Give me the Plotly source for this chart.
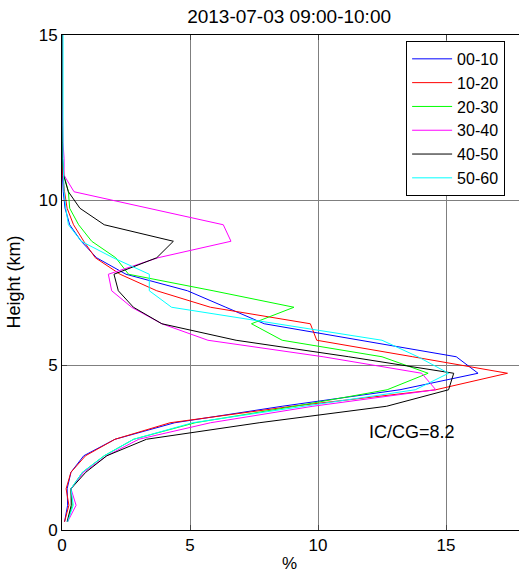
import plotly.graph_objects as go

heights = [0.25, 0.75, 1.25, 1.75, 2.25, 2.75, 3.25, 3.75, 4.25, 4.75, 5.25, 5.75,
           6.25, 6.75, 7.25, 7.75, 8.25, 8.75, 9.25, 9.75, 10.25, 10.75, 11.25,
           11.75, 12.25, 12.75, 13.25, 13.75, 14.25, 14.75, 15.25]

s_00_10 = [0.1, 0.22, 0.2, 0.35, 0.85, 2.07, 4.4, 8.6, 13.2, 16.25, 15.4, 11.7,
           7.9, 6.4, 4.9, 2.5, 1.35, 0.75, 0.3, 0.12, 0.05, 0.02, 0.0,
           0.0, 0.0, 0.0, 0.0, 0.0, 0.0, 0.0, 0.0]
s_10_20 = [0.1, 0.27, 0.16, 0.35, 0.92, 2.07, 4.22, 9.0, 14.6, 17.4, 13.7, 9.95,
           9.7, 5.8, 3.7, 2.27, 1.3, 0.85, 0.45, 0.2, 0.1, 0.03, 0.01,
           0.0, 0.0, 0.0, 0.0, 0.0, 0.0, 0.0, 0.0]
s_20_30 = [0.22, 0.4, 0.35, 0.8, 1.65, 2.8, 5.2, 9.1, 12.7, 14.3, 12.5, 8.6,
           7.4, 9.06, 5.9, 2.6, 2.1, 1.16, 0.65, 0.3, 0.25, 0.08, 0.02,
           0.01, 0.0, 0.0, 0.0, 0.0, 0.0, 0.0, 0.0]
s_30_40 = [0.22, 0.55, 0.35, 0.85, 1.75, 3.0, 5.8, 9.8, 14.6, 14.05, 10.2, 5.7,
           3.9, 2.72, 1.94, 1.81, 3.75, 6.6, 6.3, 3.4, 0.47, 0.08, 0.08,
           0.04, 0.02, 0.01, 0.0, 0.0, 0.0, 0.0, 0.0]
s_40_50 = [0.2, 0.36, 0.35, 0.93, 1.75, 3.3, 7.7, 12.68, 15.1, 15.3, 11.2, 6.8,
           3.9, 2.79, 2.2, 2.03, 3.7, 4.35, 1.65, 0.7, 0.25, 0.06, 0.02,
           0.0, 0.0, 0.0, 0.0, 0.0, 0.0, 0.0, 0.0]
s_50_60 = [0.22, 0.44, 0.35, 0.8, 1.65, 2.8, 5.1, 9.4, 13.8, 15.1, 13.9, 12.5,
           8.46, 4.28, 3.41, 3.41, 2.0, 0.75, 0.25, 0.15, 0.08, 0.05, 0.04,
           0.04, 0.04, 0.04, 0.04, 0.04, 0.04, 0.04, 0.04]

series_names = ["00-10", "10-20", "20-30", "30-40", "40-50", "50-60"]
series_vals = [s_00_10, s_10_20, s_20_30, s_30_40, s_40_50, s_50_60]
colors = ["#0000ff", "#ff0000", "#00ff00", "#ff00ff", "#000000", "#00ffff"]

x_ticks = [0, 5, 10, 15]
y_ticks = [0, 5, 10, 15]

FONT = "Liberation Sans, Arial, sans-serif"

fig = go.Figure()
for name, vals, c in zip(series_names, series_vals, colors):
    fig.add_trace(go.Scatter(x=vals, y=heights, mode="lines", name=name,
                             line=dict(color=c, width=1)))

fig.add_annotation(x=11.9, y=2.97, text="IC/CG=8.2", showarrow=False,
                   xanchor="left", yanchor="middle",
                   font=dict(size=18, color="black", family=FONT))

# axis titles
fig.add_annotation(xref="paper", yref="paper", x=0.497, y=0, yshift=-33,
                   text="%", showarrow=False, xanchor="center", yanchor="middle",
                   font=dict(size=17, color="black", family=FONT))
fig.add_annotation(xref="paper", yref="paper", x=0, xshift=-49, y=0.5,
                   text="Height (km)", showarrow=False, textangle=-90,
                   xanchor="center", yanchor="middle",
                   font=dict(size=18, color="black", family=FONT))

fig.update_layout(
    width=519, height=573,
    margin=dict(l=62, r=0, t=35, b=43),
    paper_bgcolor="white", plot_bgcolor="white",
    font=dict(family=FONT, size=17, color="black"),
    title=dict(text="2013-07-03 09:00-10:00", x=0.557, xanchor="center",
               xref="container", yref="container", y=1 - 16 / 573,
               yanchor="middle", font=dict(size=19)),
    showlegend=True,
    legend=dict(x=0.753, y=0.988, xanchor="left", yanchor="top",
                bordercolor="black", borderwidth=1, bgcolor="white",
                font=dict(size=16), tracegroupgap=0, itemwidth=40),
    xaxis=dict(range=[0, 17.85], tickvals=x_ticks, ticks="inside", ticklen=5,
               showline=True, linecolor="black", linewidth=1, mirror="ticks",
               showgrid=True, gridcolor="#7f7f7f", gridwidth=1, zeroline=False,
               automargin=False, tickfont=dict(size=17)),
    yaxis=dict(range=[0, 15], tickvals=y_ticks, ticks="inside", ticklen=5,
               showline=True, linecolor="black", linewidth=1, mirror=False,
               showgrid=True, gridcolor="#7f7f7f", gridwidth=1, zeroline=False,
               automargin=False, tickfont=dict(size=17)),
)

fig.write_html("out.html", config={"displayModeBar": False},
               post_script="document.body.style.margin='0';document.body.style.overflow='hidden';")
